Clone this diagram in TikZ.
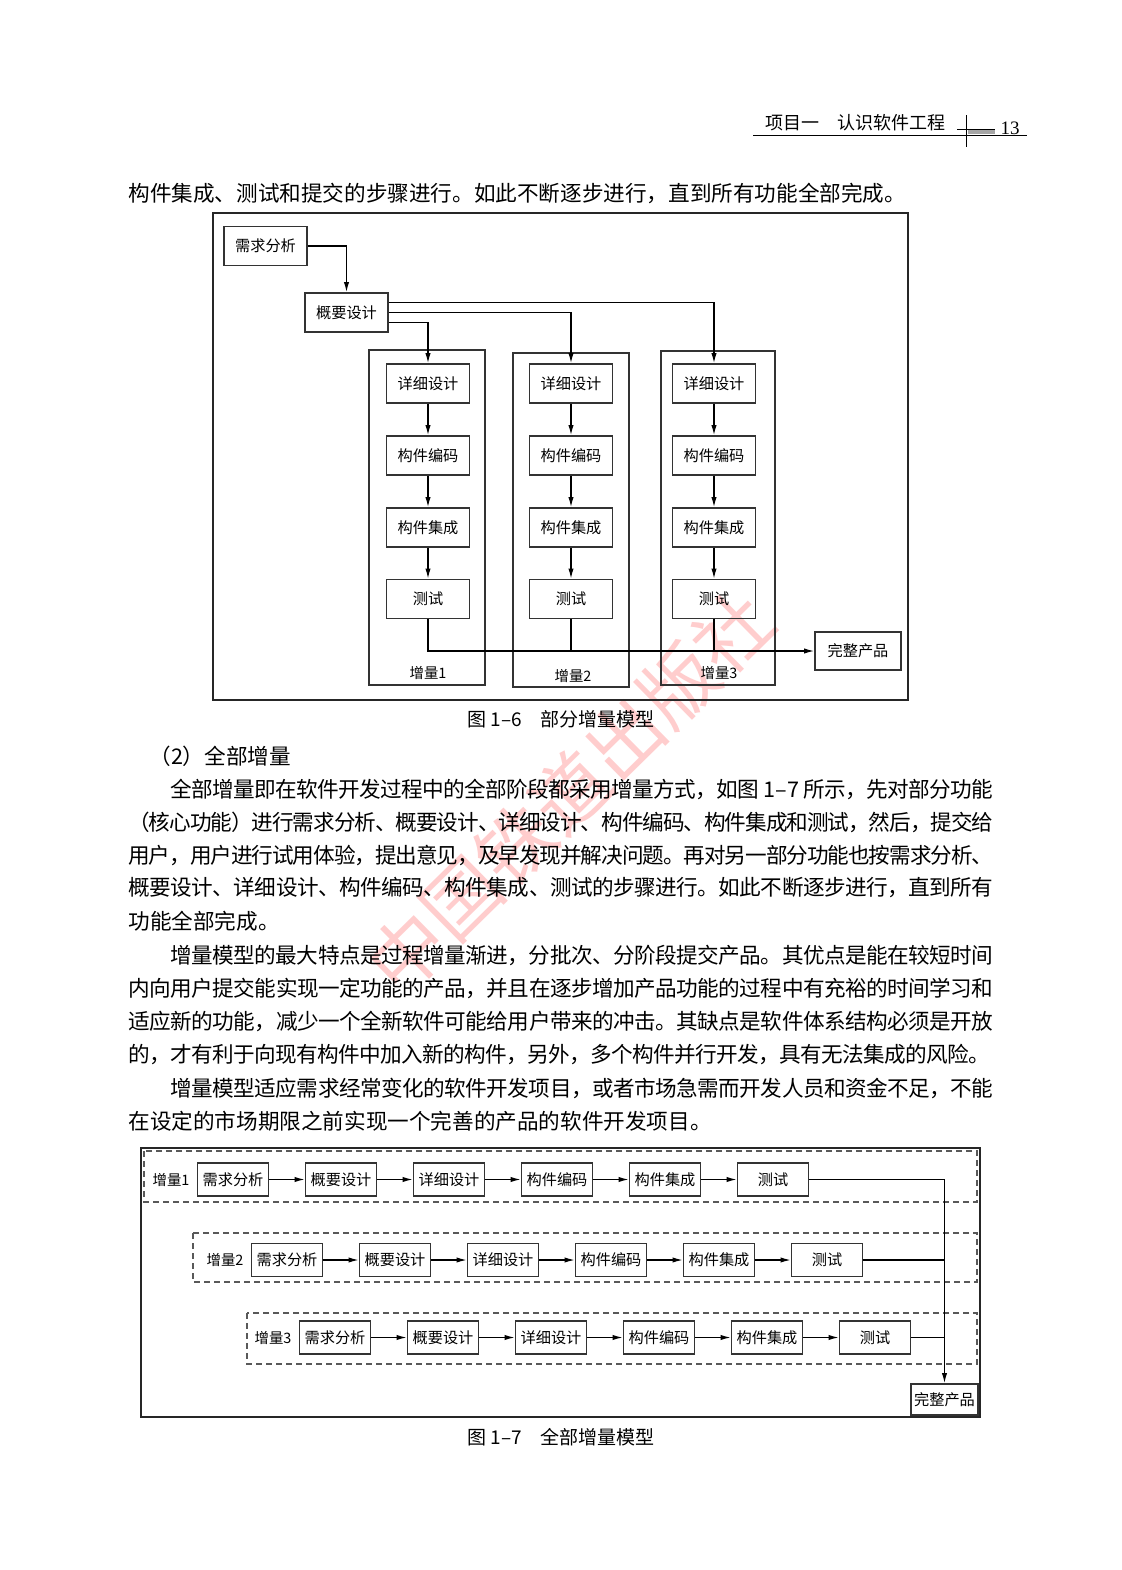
\documentclass[tikz,border=0pt]{standalone}
\usepackage{fontspec}
\setmainfont{Noto Sans CJK SC}
\newfontfamily\latin{Liberation Serif}
\usetikzlibrary{arrows.meta, positioning}
\tikzset{
    stage/.style={rectangle, draw=black!80, line width=0.8pt, minimum width=41.5pt,
                  minimum height=19.5pt, inner sep=0pt, font=\fontsize{7.6pt}{9pt}\selectfont},
    stagesm/.style={stage, minimum width=35.5pt, minimum height=16.5pt},
    incbox/.style={rectangle, draw=black!80, line width=0.8pt, inner sep=0pt},
    dashbox/.style={draw=black!65, line width=0.7pt, dash pattern=on 3pt off 2pt},
    frame/.style={draw=black!85, line width=0.8pt},
    arrow/.style={-{Latex[length=5pt,width=2.6pt]}, line width=0.6pt},
    link/.style={line width=0.6pt},
    lbl/.style={font=\fontsize{7.2pt}{9pt}\selectfont, inner sep=0pt},
    bodyline/.style={anchor=west, inner sep=0pt, font=\fontsize{10.8pt}{13pt}\selectfont},
    caption/.style={font=\fontsize{9.5pt}{11pt}\selectfont, inner sep=0pt},
}
\makeatletter
\newcommand{\justline}[2]{\hbox to #1{\@tfor\jl@c:=#2\do{\jl@c\hskip 0pt plus 1fil minus 1fil}\unskip}}
\makeatother

\begin{document}
\begin{tikzpicture}[x=0.5pt, y=-0.5pt]

    % Page
    \fill[white] (0,0) rectangle (1122,1570);
    \useasboundingbox (0,0) rectangle (1122,1570);

    % Watermark
    \node[rotate=44.5, text=red!70, opacity=0.28, inner sep=0pt,
          font=\fontsize{38pt}{38pt}\selectfont] (wm) at (570,792) {中国铁道出版社};

    % Running head
    \node[anchor=west, inner sep=0pt, font=\fontsize{9pt}{11pt}\selectfont] (head) at (765,123) {项目一　认识软件工程};
    \node[inner sep=0pt, font=\latin\fontsize{9.5pt}{11pt}\selectfont] (pageno) at (1010,128) {13};
    \draw[line width=0.5pt] (753,135) -- (1027,135);
    \draw[line width=0.5pt] (966,115) -- (966,147);
    \draw[line width=0.4pt] (957,129) -- (995,129);
    \fill[black!35] (968,129.5) rectangle (995,134);

    % Text above figure 1-6
    \node[bodyline] (tl0) at (128,193) {构件集成、测试和提交的步骤进行。如此不断逐步进行，直到所有功能全部完成。};

    % Figure 1-6
    \draw[frame] (213,213) rectangle (908,700);
    \node[stage] (req) at (265.5,246) {需求分析};
    \node[stage] (des) at (346.5,312.5) {概要设计};

    \node[incbox, minimum width=58pt, minimum height=167.5pt] (inc1) at (427,517.5) {};
    \node[incbox, minimum width=58pt, minimum height=167pt] (inc2) at (571,520) {};
    \node[incbox, minimum width=57pt, minimum height=167pt] (inc3) at (718,518) {};
    \node[lbl] (inl1) at (428,673) {增量1};
    \node[lbl] (inl2) at (573,676) {增量2};
    \node[lbl] (inl3) at (719,673) {增量3};

    \foreach \i/\x in {1/428,2/571,3/714}{
        \node[stage] (d\i) at (\x,383.5) {详细设计};
        \node[stage] (c\i) at (\x,455.5) {构件编码};
        \node[stage] (g\i) at (\x,527.5) {构件集成};
        \node[stage] (t\i) at (\x,599) {测试};
        \draw[arrow] (d\i) -- (c\i);
        \draw[arrow] (c\i) -- (g\i);
        \draw[arrow] (g\i) -- (t\i);
    }

    \node[stage, minimum width=43pt, minimum height=19pt] (prod) at (858,651) {完整产品};

    \draw[arrow] (req.east) -| (des.north);
    \draw[arrow] ([yshift=5pt]des.east) -| (d3.north);
    \draw[arrow] (des.east) -| (d2.north);
    \draw[arrow] ([yshift=-5pt]des.east) -| (d1.north);
    \draw[arrow] (t1.south) |- (prod.west);
    \draw[link] (t2.south) -- (t2.south |- prod.west);
    \draw[link] (t3.south) -- (t3.south |- prod.west);

    \node[caption] (cap6) at (561,719) {图 1–6　部分增量模型};

    % Section text
    \node[bodyline] (sec) at (149,756) {（2）全部增量};
    \node[bodyline] (p1a) at (170,789) {\justline{411.5pt}{全部增量即在软件开发过程中的全部阶段都采用增量方式，如图{\ 1–7\ }所示，先对部分功能}};
    \node[bodyline] (p1b) at (128,822) {\justline{432.5pt}{（核心功能）进行需求分析、概要设计、详细设计、构件编码、构件集成和测试，然后，提交给}};
    \node[bodyline] (p1c) at (128,855) {\justline{432.5pt}{用户，用户进行试用体验，提出意见，及早发现并解决问题。再对另一部分功能也按需求分析、}};
    \node[bodyline] (p1d) at (128,888) {\justline{432.5pt}{概要设计、详细设计、构件编码、构件集成、测试的步骤进行。如此不断逐步进行，直到所有}};
    \node[bodyline] (p1e) at (128,921) {功能全部完成。};
    \node[bodyline] (p2a) at (170,955) {\justline{411.5pt}{增量模型的最大特点是过程增量渐进，分批次、分阶段提交产品。其优点是能在较短时间}};
    \node[bodyline] (p2b) at (128,988) {\justline{432.5pt}{内向用户提交能实现一定功能的产品，并且在逐步增加产品功能的过程中有充裕的时间学习和}};
    \node[bodyline] (p2c) at (128,1021) {\justline{432.5pt}{适应新的功能，减少一个全新软件可能给用户带来的冲击。其缺点是软件体系结构必须是开放}};
    \node[bodyline] (p2d) at (128,1054) {\justline{431pt}{的，才有利于向现有构件中加入新的构件，另外，多个构件并行开发，具有无法集成的风险。}};
    \node[bodyline] (p3a) at (170,1088) {\justline{411.5pt}{增量模型适应需求经常变化的软件开发项目，或者市场急需而开发人员和资金不足，不能}};
    \node[bodyline] (p3b) at (128,1121) {在设定的市场期限之前实现一个完善的产品的软件开发项目。};

    % Figure 1-7
    \draw[frame] (141,1148) rectangle (980,1417);
    \foreach \r/\y/\xs/\xl/\yt/\yb in {1/1179.5/233/144/1151/1202,
                                      2/1260/287/193/1233/1282,
                                      3/1337.5/335/247/1313/1364}{
        \draw[dashbox] (\xl,\yt) rectangle (977,\yb);
        \node[lbl] (n\r) at (\xs-62,\y) {增量\r};
        \foreach \k/\txt in {1/需求分析,2/概要设计,3/详细设计,4/构件编码,5/构件集成,6/测试}
            \node[stagesm] (s\r\k) at (\xs+108*\k-108,\y) {\txt};
        \foreach \a/\b in {1/2,2/3,3/4,4/5,5/6}
            \draw[arrow] (s\r\a) -- (s\r\b);
    }

    \node[stagesm, minimum width=33.5pt, minimum height=15.5pt] (prod2) at (944.5,1399.5) {完整产品};
    \draw[arrow] (s16.east) -| (prod2.north);
    \draw[link] (s26.east) -- (s26.east -| prod2.north);
    \draw[link] (s36.east) -- (s36.east -| prod2.north);

    \node[caption] (cap7) at (561,1437) {图 1–7　全部增量模型};

\end{tikzpicture}
\end{document}
